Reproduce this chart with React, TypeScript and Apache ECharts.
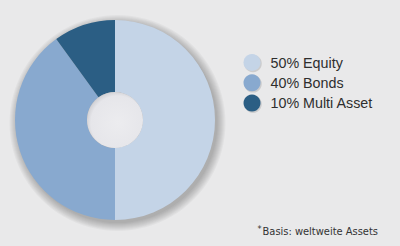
import React, { useEffect, useRef } from "react";
import * as echarts from "echarts";

const categories = ["Equity", "Bonds", "Multi Asset"];
const shares = [50, 40, 10];
const colors = ["#c4d4e7", "#88a9cf", "#2b5e84"];
const footnote = "Basis: weltweite Assets";

export default function App() {
  const ref = useRef<HTMLDivElement>(null);
  useEffect(() => {
    if (!ref.current) return;
    const chart = echarts.init(ref.current, null, { renderer: "svg" });
    const data = categories.map((name, i) => ({
      name,
      value: shares[i],
      itemStyle: { color: colors[i] },
    }));
    const narrow = "'Liberation Sans Narrow', 'DejaVu Sans Condensed', sans-serif";
    const shadowRings: any[] = [];
    for (let k = 0; k < 9; k++) {
      shadowRings.push({
        type: "circle",
        shape: { cx: 117.5, cy: 123, r: 100 + k },
        z: 0,
        silent: true,
        style: { fill: "rgba(40,40,50,0.04)" },
      });
    }
    const legendShadows = [0, 1, 2].map((i) => ({
      type: "circle",
      shape: { cx: 253, cy: 63.5 + i * 20.3, r: 8.8 },
      z: 0,
      silent: true,
      style: { fill: "rgba(0,0,0,0.12)" },
    }));
    chart.setOption({
      animation: false,
      backgroundColor: "#e9e9ea",
      legend: {
        orient: "vertical",
        left: 243.5,
        top: 54,
        padding: 0,
        itemWidth: 17,
        itemHeight: 17,
        itemGap: 3.3,
        icon: "circle",
        data: categories,
        formatter: (name: string) => `${shares[categories.indexOf(name)]}% ${name}`,
        textStyle: {
          fontFamily: "'Liberation Sans', Arial, sans-serif",
          fontSize: 14.3,
          color: "#2e2e2e",
          padding: [0, 0, 0, 5],
        },
      },
      graphic: [
        ...shadowRings,
        ...legendShadows,
        {
          type: "circle",
          shape: { cx: 115, cy: 120, r: 28 },
          z: 10,
          silent: true,
          style: {
            fill: {
              type: "radial",
              x: 0.55,
              y: 0.55,
              r: 0.6,
              colorStops: [
                { offset: 0, color: "#ececef" },
                { offset: 0.8, color: "#e6e6ea" },
                { offset: 1, color: "#c8c8cc" },
              ],
            },
          },
        },
        {
          type: "text",
          x: 378,
          y: 231,
          style: {
            text: "{sup|*}{main|" + footnote + "}",
            align: "right",
            verticalAlign: "middle",
            rich: {
              sup: {
                fontSize: 9,
                fill: "#333",
                verticalAlign: "top",
                padding: [0, 1, 5, 0],
                fontFamily: narrow,
              },
              main: {
                fontSize: 11,
                fill: "#333",
                fontFamily: narrow,
              },
            },
          },
        },
      ],
      series: [
        {
          type: "pie",
          center: [115, 120],
          radius: [28, 100],
          startAngle: 90,
          clockwise: true,
          label: { show: false },
          labelLine: { show: false },
          itemStyle: { borderWidth: 0 },
          z: 2,
          data,
        },
      ],
    });
    return () => chart.dispose();
  }, []);
  return (
    <div
      ref={ref}
      style={{ position: "fixed", left: 0, top: 0, width: 400, height: 246 }}
    />
  );
}
